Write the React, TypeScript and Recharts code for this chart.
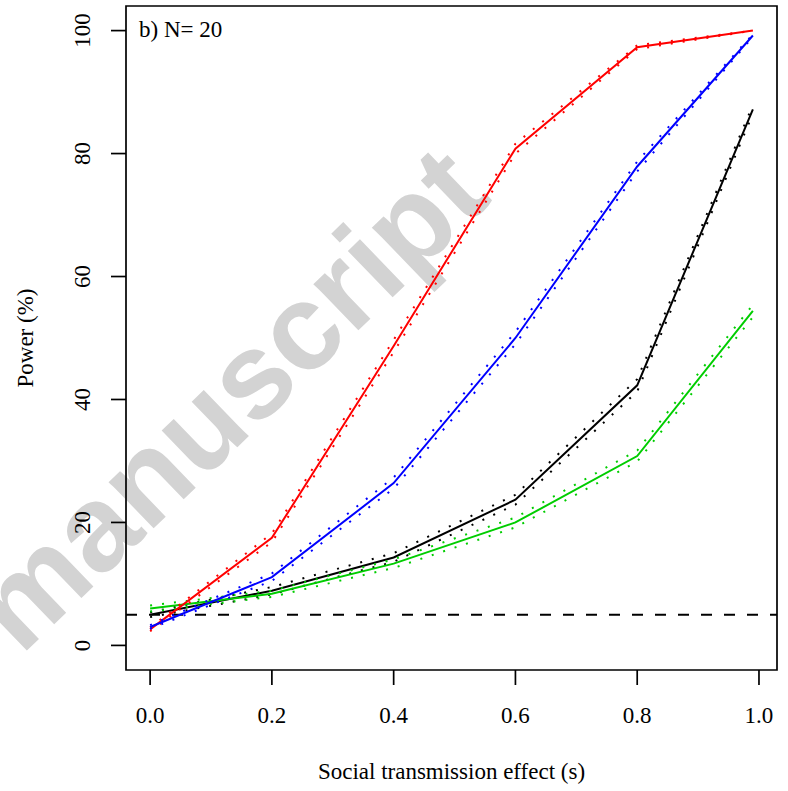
import React from 'react';
import { LineChart, Line, XAxis, YAxis, ReferenceLine, ReferenceArea } from 'recharts';

// social transmission effect values on the x axis
const sValues = [0, 0.2, 0.4, 0.6, 0.8, 0.99];

// power (%) per series, with the dotted interval lines
const redPower = [2.6, 17.5, 48.7, 80.8, 97.3, 100.0];
const redLow = [2.3, 16.8, 47.7, 80.0, 97.0, 100.0];
const redHigh = [2.9, 18.2, 49.7, 81.6, 97.6, 100.0];

const bluePower = [3.0, 11.1, 26.4, 50.0, 77.9, 99.2];
const blueLow = [2.7, 10.5, 25.5, 49.0, 77.1, 99.0];
const blueHigh = [3.3, 11.7, 27.3, 51.0, 78.7, 99.4];

const blackPower = [5.0, 8.9, 14.3, 23.7, 42.3, 87.2];
const blackLow = [4.6, 8.3, 13.6, 22.9, 41.3, 86.5];
const blackHigh = [5.4, 9.5, 15.0, 24.5, 43.3, 87.9];

const greenPower = [6.0, 8.4, 13.3, 20.0, 30.8, 54.4];
const greenLow = [5.5, 7.9, 12.6, 19.2, 29.9, 53.4];
const greenHigh = [6.5, 8.9, 14.0, 20.8, 31.7, 55.4];

const xTicks = [0, 0.2, 0.4, 0.6, 0.8, 1.0];
const yTicks = [0, 20, 40, 60, 80, 100];
const nominalLevel = 5;

const data = sValues.map((s, i) => ({
  s,
  red: redPower[i], redLo: redLow[i], redHi: redHigh[i],
  blue: bluePower[i], blueLo: blueLow[i], blueHi: blueHigh[i],
  black: blackPower[i], blackLo: blackLow[i], blackHi: blackHigh[i],
  green: greenPower[i], greenLo: greenLow[i], greenHi: greenHigh[i],
}));

const serif: React.CSSProperties = { fontFamily: "'Liberation Serif', 'DejaVu Serif', serif", fontSize: 23 };

const series = [
  { key: 'black', color: '#000000' },
  { key: 'green', color: '#00CD00' },
  { key: 'red', color: '#FF0000' },
  { key: 'blue', color: '#0000FF' },
];

const XTick = (props: any) => (
  <text x={props.x} y={723} textAnchor="middle" style={serif} fill="#000">
    {Number(props.payload.value).toFixed(1)}
  </text>
);

const YTick = (props: any) => (
  <text
    x={90}
    y={props.y}
    transform={`rotate(-90, 90, ${props.y})`}
    textAnchor="middle"
    style={serif}
    fill="#000"
  >
    {props.payload.value}
  </text>
);

const App = () => {
  const lines: React.ReactNode[] = [];
  series.forEach(({ key, color }) => {
    lines.push(
      <Line key={key + 'Lo'} type="linear" dataKey={key + 'Lo'} stroke={color} strokeWidth={2}
        strokeDasharray="2 10" dot={false} activeDot={false} isAnimationActive={false} />,
      <Line key={key + 'Hi'} type="linear" dataKey={key + 'Hi'} stroke={color} strokeWidth={2}
        strokeDasharray="2 10" dot={false} activeDot={false} isAnimationActive={false} />,
      <Line key={key} type="linear" dataKey={key} stroke={color} strokeWidth={2}
        dot={false} activeDot={false} isAnimationActive={false} />
    );
  });

  return (
    <div style={{ position: 'absolute', left: 0, top: 0, width: 788, height: 791, background: '#fff' }}>
      <svg width={788} height={791} style={{ position: 'absolute', left: 0, top: 0 }}>
        <text
          x={228}
          y={398}
          transform="rotate(-44, 228, 398)"
          textAnchor="middle"
          dominantBaseline="central"
          style={{ fontFamily: "'Liberation Sans', Arial, sans-serif", fontWeight: 'bold', fontSize: 122 }}
          fill="#D3D3D3"
        >
          manuscript
        </text>
      </svg>
      <div style={{ position: 'absolute', left: 0, top: 0 }}>
        <LineChart width={788} height={791} data={data} margin={{ top: 6, right: 11, bottom: 0, left: 0 }}>
          <XAxis
            dataKey="s"
            type="number"
            domain={[-0.0396, 1.0296]}
            ticks={xTicks}
            allowDataOverflow
            height={121}
            axisLine={false}
            tickSize={15}
            tickLine={{ stroke: '#000', strokeWidth: 1.7 }}
            tick={<XTick />}
            interval={0}
          />
          <YAxis
            type="number"
            domain={[-4, 104]}
            ticks={yTicks}
            allowDataOverflow
            width={126}
            axisLine={false}
            tickSize={15}
            tickLine={{ stroke: '#000', strokeWidth: 1.7 }}
            tick={<YTick />}
            interval={0}
          />
          <ReferenceLine y={nominalLevel} stroke="#000" strokeWidth={2} strokeDasharray="11 12" />
          {lines}
          <ReferenceArea x1={-0.0396} x2={1.0296} y1={-4} y2={104} fill="none" stroke="#000" strokeWidth={1.7} />
        </LineChart>
      </div>
      <svg width={788} height={791} style={{ position: 'absolute', left: 0, top: 0, pointerEvents: 'none' }}>
        <text x={139} y={37} style={serif} fill="#000">b) N= 20</text>
        <text x={451.5} y={779} textAnchor="middle" style={serif} fill="#000">
          Social transmission effect (s)
        </text>
        <text x={33} y={338} transform="rotate(-90, 33, 338)" textAnchor="middle" style={serif} fill="#000">
          Power (%)
        </text>
      </svg>
    </div>
  );
};

export default App;
